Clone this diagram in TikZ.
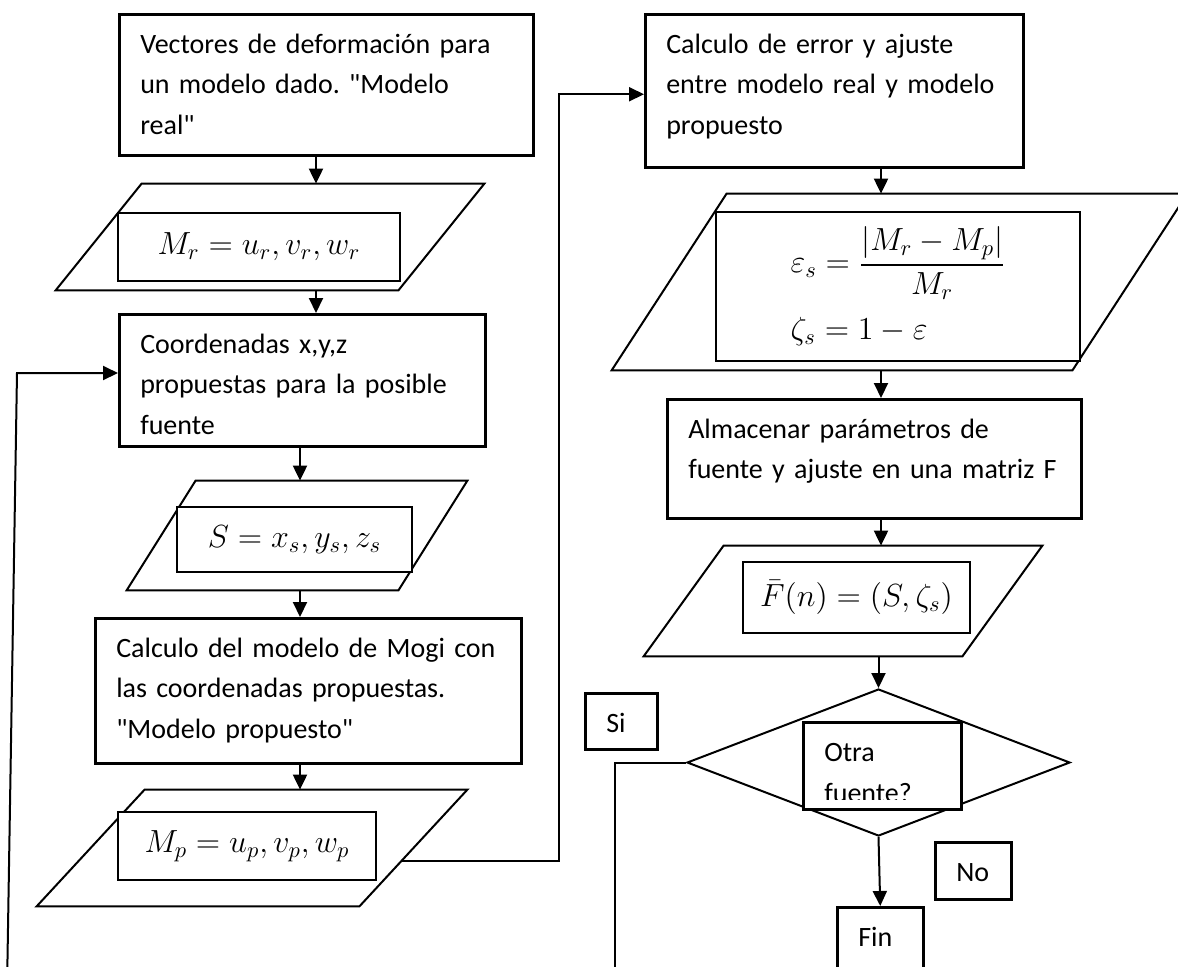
\RequirePackage{fix-cm}
\documentclass[tikz,border=0pt]{standalone}
\usepackage{amsmath}
\usepackage[no-math]{fontspec}
\setmainfont{Carlito}[Ligatures=TeXOff]
\frenchspacing
\usetikzlibrary{arrows.meta,calc,positioning,shapes.geometric}

\tikzset{
  proc/.style={draw, line width=1.25pt, fill=white, anchor=north west, align=left,
    inner xsep=10.5pt, inner ysep=0pt, text height=19.5pt,
    font=\fontsize{14}{20.25}\selectfont},
  eqbox/.style={draw, line width=1.25pt, fill=white, inner sep=0pt,
    font=\fontsize{16}{22}\selectfont},
  iobox/.style={inner sep=0pt},
  flow/.style={line width=1pt, -{Triangle[length=7.5pt,width=7pt]}},
  link/.style={line width=1pt},
}
\newcommand\ioshape[2]{%
  \draw[line width=1pt] ($(#1.north west)+(#2,0)$) -- (#1.north east)
    -- ($(#1.south east)-(#2,0)$) -- (#1.south west) -- cycle;}

\begin{document}
\begin{tikzpicture}[x=0.5pt,y=-0.5pt]
  \clip (0,0) rectangle (1178,966);
  \coordinate (ax1) at (316,0);
  \coordinate (ax2) at (300,0);
  \coordinate (ax3) at (881,0);

  % left column
  \node[proc, text width=186pt, text depth=51pt] (vec) at (118,13)
    {\mbox{Vectores de deformación para}\\\mbox{un modelo dado. "Modelo}\\real"};
  \node[iobox, minimum width=214pt, minimum height=53pt] (mrio) at (270,237) {};
  \ioshape{mrio}{86}
  \node[eqbox, minimum width=141pt, minimum height=34pt] (mr) at (259,247)
    {$M_r = u_r, v_r, w_r$};
  \node[proc, text width=162pt, text depth=46.5pt] (coord) at (118,313)
    {\mbox{Coordenadas x,y,z}\\\mbox{propuestas para la posible}\\fuente};
  \node[iobox, minimum width=170pt, minimum height=54.5pt] (sio) at (297,535.5) {};
  \ioshape{sio}{69}
  \node[eqbox, minimum width=117.5pt, minimum height=32.5pt] (s) at (294.5,539.5)
    {$S = x_s, y_s, z_s$};
  \node[proc, text width=192pt, text depth=53pt] (mogi) at (94,617)
    {\mbox{Calculo del modelo de Mogi con}\\\mbox{las coordenadas propuestas.}\\\mbox{"Modelo propuesto"}};
  \node[iobox, minimum width=215pt, minimum height=58pt] (mpio) at (252,848) {};
  \ioshape{mpio}{108}
  \node[eqbox, minimum width=129pt, minimum height=34pt] (mp) at (247,846)
    {$M_p = u_p, v_p, w_p$};

  % right column
  \node[proc, text width=168pt, text depth=57pt] (err) at (644,13)
    {\mbox{Calculo de error y ajuste}\\\mbox{entre modelo real y modelo}\\propuesto};
  \node[iobox, minimum width=287.5pt, minimum height=88pt] (epsio) at (899.5,282) {};
  \ioshape{epsio}{115}
  \node[eqbox, minimum width=182pt, minimum height=74.5pt, align=left] (eps) at (898,286.5)
    {$\displaystyle\varepsilon_s = \frac{\lvert M_r - M_p\rvert}{M_r}$\\[8pt]
     $\zeta_s = 1 - \varepsilon$};
  \node[proc, text width=186pt, text depth=40pt] (alm) at (666,398)
    {\mbox{Almacenar parámetros de}\\\mbox{fuente y ajuste en una matriz F}};
  \node[iobox, minimum width=199pt, minimum height=55pt] (fio) at (843,601) {};
  \ioshape{fio}{80}
  \node[eqbox, minimum width=113.5pt, minimum height=35.5pt] (fbar) at (856.5,597.5)
    {$\bar{F}(n) = (S, \zeta_s)$};
  \node[draw, diamond, line width=1pt, inner sep=0pt, minimum width=191.5pt,
    minimum height=73.5pt] (dec) at (878.5,762.5) {};
  \node[draw, fill=white, line width=1.25pt, anchor=north west, inner sep=0pt,
    minimum width=79pt, minimum height=43.5pt] (otrab) at (802,721) {};
  \begin{scope}
    \clip (otrab.north west) rectangle ([yshift=5.5pt]otrab.south east);
    \node[proc, draw=none, fill=none, text width=58pt, font=\fontsize{14}{20.5}\selectfont]
      (otra) at (otrab.north west) {Otra\\fuente?};
  \end{scope}
  \node[proc, text width=15pt, text depth=8.5pt] (si) at (584,692) {Si};
  \node[proc, text width=17pt, text depth=9pt] (no) at (934,841) {No};
  \node[proc, text width=22pt, text depth=15.5pt] (fin) at (836,906) {Fin};

  % connectors
  \draw[flow] (vec.south -| ax1) -- (mrio.north -| ax1);
  \draw[flow] (mrio.south -| ax1) -- (coord.north -| ax1);
  \draw[flow] (coord.south -| ax2) -- (sio.north -| ax2);
  \draw[flow] (sio.south -| ax2) -- (mogi.north -| ax2);
  \draw[flow] (mogi.south -| ax2) -- (mpio.north -| ax2);
  \coordinate (mpout) at (401,861);
  \coordinate (mpturn) at (559,861);
  \draw[flow] (mpout) -- (mpturn) |- ([yshift=-1.75pt]err.west);
  \draw[flow] (err.south -| ax3) -- (epsio.north -| ax3);
  \draw[flow] (epsio.south -| ax3) -- (alm.north -| ax3);
  \draw[flow] (alm.south -| ax3) -- (fio.north -| ax3);
  \draw[flow] (fio.south -| dec.north) -- (dec.north);
  \draw[flow] (dec.south) -- (fin.north);
  \coordinate (sidown) at (615,1000);
  \draw[link] (dec.west) -| (sidown);
  \coordinate (fbdown) at (7,990);
  \coordinate (fbup) at (17,373);
  \draw[flow] (fbdown) -- (fbup) -- (fbup -| coord.west);
\end{tikzpicture}
\end{document}
